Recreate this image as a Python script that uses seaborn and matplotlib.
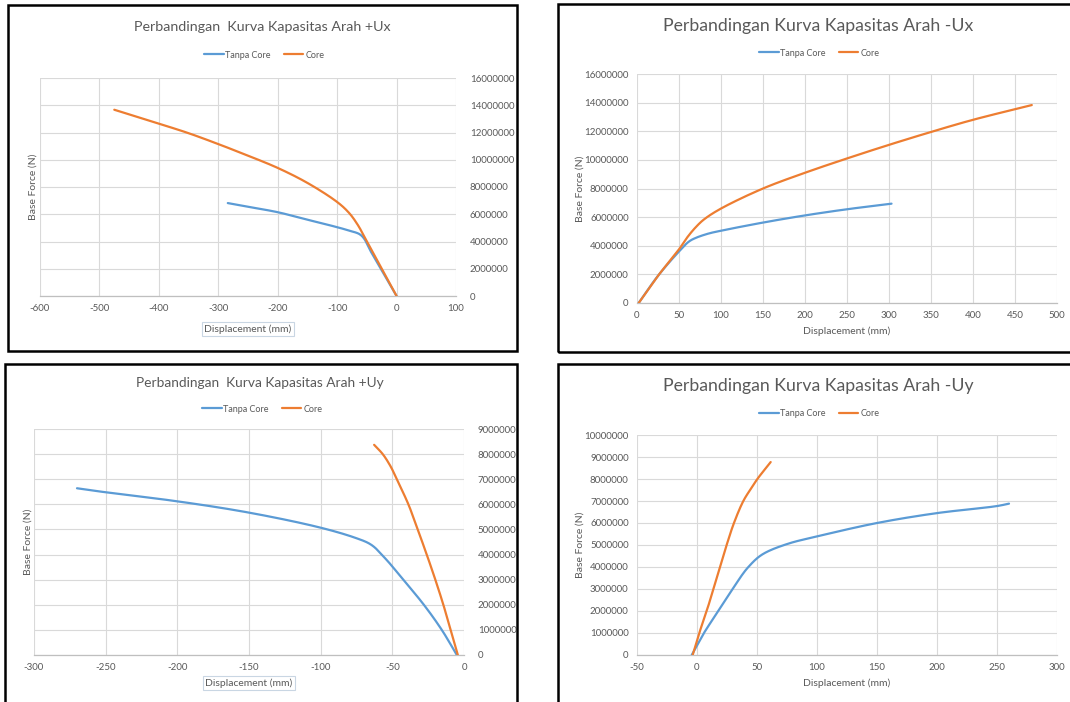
import numpy as np
import pandas as pd
import matplotlib
matplotlib.use("Agg")
import matplotlib.pyplot as plt
from matplotlib.patches import Rectangle
from matplotlib.lines import Line2D
import seaborn as sns

sns.set_theme(style="white")
plt.rcParams['font.family'] = ['Lato', 'DejaVu Sans']

# ---------------- data ----------------
series_names = ["Tanpa Core", "Core"]

# +Ux
ux_pos_tanpa_x = [0, -20, -40, -61, -80, -100, -150, -200, -250, -284]
ux_pos_tanpa_y = [0, 1.5e6, 3.0e6, 4.5e6, 4.8e6, 5.05e6, 5.6e6, 6.15e6, 6.55e6, 6.82e6]
ux_pos_core_x = [0, -30, -50, -65, -80, -100, -150, -200, -250, -300, -350, -400, -475]
ux_pos_core_y = [0, 2.4e6, 4.0e6, 5.2e6, 6.1e6, 6.9e6, 8.3e6, 9.4e6, 10.3e6, 11.15e6, 11.95e6, 12.65e6, 13.67e6]

# -Ux
ux_neg_tanpa_x = [2, 25, 50, 62, 70, 85, 100, 150, 200, 250, 303]
ux_neg_tanpa_y = [0, 1.9e6, 3.6e6, 4.3e6, 4.55e6, 4.85e6, 5.05e6, 5.62e6, 6.12e6, 6.55e6, 6.94e6]
ux_neg_core_x = [2, 25, 50, 60, 70, 80, 100, 150, 200, 250, 300, 350, 400, 470]
ux_neg_core_y = [0, 1.9e6, 3.75e6, 4.6e6, 5.3e6, 5.85e6, 6.6e6, 8.0e6, 9.1e6, 10.1e6, 11.05e6, 11.95e6, 12.8e6, 13.83e6]

# +Uy
uy_pos_tanpa_x = [-5, -15.5, -28, -42.4, -55, -65, -75, -100, -150, -200, -250, -270]
uy_pos_tanpa_y = [0, 1.0e6, 2.0e6, 3.0e6, 3.85e6, 4.4e6, 4.65e6, 5.07e6, 5.67e6, 6.12e6, 6.48e6, 6.64e6]
uy_pos_core_x = [-4.3, -9.3, -14.4, -20.0, -26.0, -32.3, -38.8, -46.9, -51.1, -56.7, -62.7]
uy_pos_core_y = [0, 1.0e6, 2.0e6, 3.0e6, 4.0e6, 5.0e6, 6.0e6, 7.0e6, 7.5e6, 8.0e6, 8.37e6]

# -Uy
uy_neg_tanpa_x = [-4.4, 5.8, 17.8, 29.7, 42.8, 55.3, 76, 100, 150, 200, 250, 260]
uy_neg_tanpa_y = [0, 1.0e6, 2.0e6, 3.0e6, 4.0e6, 4.6e6, 5.06e6, 5.39e6, 6.0e6, 6.45e6, 6.77e6, 6.88e6]
uy_neg_core_x = [-3.6, 1.9, 8.1, 13.6, 19.2, 24.7, 30.8, 38.6, 44.2, 50.3, 61.4]
uy_neg_core_y = [0, 1.0e6, 2.0e6, 3.0e6, 4.0e6, 5.0e6, 6.0e6, 7.0e6, 7.5e6, 8.0e6, 8.77e6]

titles = ["Perbandingan  Kurva Kapasitas Arah +Ux",
          "Perbandingan Kurva Kapasitas Arah -Ux",
          "Perbandingan  Kurva Kapasitas Arah +Uy",
          "Perbandingan Kurva Kapasitas Arah -Uy"]
x_label = "Displacement (mm)"
y_label = "Base Force (N)"

# ---------------- style ----------------
W, H = 1070, 702
BLUE = "#5B9BD5"
ORANGE = "#ED7D31"
GRID = "#D9D9D9"
TXT = "#595959"
palette = {"Tanpa Core": BLUE, "Core": ORANGE}

fig = plt.figure(figsize=(W / 100, H / 100), dpi=100)
fig.patch.set_facecolor("white")


def fx(px):
    return px / W


def fy(py):
    return 1 - py / H


def make_df(tx, ty, cx, cy):
    d1 = pd.DataFrame({"x": tx, "y": ty, "s": series_names[0]})
    d2 = pd.DataFrame({"x": cx, "y": cy, "s": series_names[1]})
    return pd.concat([d1, d2], ignore_index=True)


def smooth(df, xr, yr):
    # Excel-style smoothed line: centripetal Catmull-Rom through the read points
    out = []
    for s, g in df.groupby("s", sort=False):
        P = np.column_stack([np.asarray(g["x"], float) / xr, np.asarray(g["y"], float) / yr])
        P = np.vstack([2 * P[0] - P[1], P, 2 * P[-1] - P[-2]])
        xs, ys = [], []
        for i in range(1, len(P) - 2):
            p0, p1, p2, p3 = P[i - 1], P[i], P[i + 1], P[i + 2]
            t0 = 0.0
            t1 = t0 + np.linalg.norm(p1 - p0) ** 0.5
            t2 = t1 + np.linalg.norm(p2 - p1) ** 0.5
            t3 = t2 + np.linalg.norm(p3 - p2) ** 0.5
            t = np.linspace(t1, t2, 20, endpoint=False)[:, None]
            a1 = (t1 - t) / (t1 - t0) * p0 + (t - t0) / (t1 - t0) * p1
            a2 = (t2 - t) / (t2 - t1) * p1 + (t - t1) / (t2 - t1) * p2
            a3 = (t3 - t) / (t3 - t2) * p2 + (t - t2) / (t3 - t2) * p3
            b1 = (t2 - t) / (t2 - t0) * a1 + (t - t0) / (t2 - t0) * a2
            b2 = (t3 - t) / (t3 - t1) * a2 + (t - t1) / (t3 - t1) * a3
            c = (t2 - t) / (t2 - t1) * b1 + (t - t1) / (t2 - t1) * b2
            xs.extend(c[:, 0] * xr); ys.extend(c[:, 1] * yr)
        xs.append(P[-2][0] * xr); ys.append(P[-2][1] * yr)
        out.append(pd.DataFrame({"x": xs, "y": ys, "s": s}))
    return pd.concat(out, ignore_index=True)


panels = [
    dict(data=make_df(ux_pos_tanpa_x, ux_pos_tanpa_y, ux_pos_core_x, ux_pos_core_y),
         box=(40, 456, 78, 296), xlim=(-600, 100), xstep=100, ylim=(0, 16e6), ystep=2e6, right=True,
         border=(8, 517, 5, 351), title_xy=(262, 27), title_fs=10.3, leg_xy=(264, 55),
         ylab_x=33, xlab_xy=(248, 329), xlab_box=True),
    dict(data=make_df(ux_neg_tanpa_x, ux_neg_tanpa_y, ux_neg_core_x, ux_neg_core_y),
         box=(637, 1057, 74, 303), xlim=(0, 500), xstep=50, ylim=(0, 16e6), ystep=2e6, right=False,
         border=(558, 1075, 4, 352), title_xy=(818, 26), title_fs=12.7, leg_xy=(819, 53),
         ylab_x=580, xlab_xy=(847, 331), xlab_box=False),
    dict(data=make_df(uy_pos_tanpa_x, uy_pos_tanpa_y, uy_pos_core_x, uy_pos_core_y),
         box=(34, 464, 429, 655), xlim=(-300, 0), xstep=50, ylim=(0, 9e6), ystep=1e6, right=True,
         border=(5, 517, 364, 706), title_xy=(260, 383), title_fs=9.9, leg_xy=(262, 409),
         ylab_x=28, xlab_xy=(249, 683), xlab_box=True),
    dict(data=make_df(uy_neg_tanpa_x, uy_neg_tanpa_y, uy_neg_core_x, uy_neg_core_y),
         box=(637, 1057, 435, 655), xlim=(-50, 300), xstep=50, ylim=(0, 10e6), ystep=1e6, right=False,
         border=(558, 1075, 364, 706), title_xy=(818, 386), title_fs=12.7, leg_xy=(819, 414),
         ylab_x=580, xlab_xy=(847, 683), xlab_box=False),
]

for i, p in enumerate(panels):
    l, r, t, b = p["box"]
    ax = fig.add_axes([fx(l), fy(b), fx(r - l), (b - t) / H])
    xr = p["xlim"][1] - p["xlim"][0]
    yr = p["ylim"][1] - p["ylim"][0]
    sm = smooth(p["data"], xr, yr)
    sns.lineplot(data=sm, x="x", y="y", hue="s", units="s", estimator=None, sort=False,
                 palette=palette, linewidth=1.6, legend=False, ax=ax, zorder=3)
    ax.set_xlim(*p["xlim"])
    ax.set_ylim(*p["ylim"])
    ax.set_xticks(np.arange(p["xlim"][0], p["xlim"][1] + 1e-9, p["xstep"]))
    yt = np.arange(p["ylim"][0], p["ylim"][1] + 1, p["ystep"])
    ax.set_yticks(yt)
    ax.set_yticklabels([f"{int(v)}" for v in yt])
    ax.set_xticklabels([f"{int(v)}" for v in ax.get_xticks()])
    ax.grid(True, color=GRID, linewidth=0.8, zorder=0)
    ax.set_axisbelow(True)
    for sp in ["top", "left", "right"]:
        ax.spines[sp].set_visible(False)
    ax.spines["bottom"].set_color("#BFBFBF")
    ax.spines["bottom"].set_linewidth(0.9)
    ax.tick_params(axis="both", length=0, labelsize=7, labelcolor=TXT, pad=6)
    if p["right"]:
        ax.yaxis.tick_right()
        ax.tick_params(axis="y", pad=10)
    ax.set_xlabel("")
    ax.set_ylabel("")
    ax.set_facecolor("white")

    # title
    fig.text(fx(p["title_xy"][0]), fy(p["title_xy"][1]), titles[i], ha="center", va="center",
             fontsize=p["title_fs"], color=TXT)
    # legend
    handles = [Line2D([], [], color=BLUE, lw=1.6), Line2D([], [], color=ORANGE, lw=1.6)]
    fig.legend(handles, series_names, loc="center",
               bbox_to_anchor=(fx(p["leg_xy"][0]), fy(p["leg_xy"][1])),
               ncol=2, frameon=False, fontsize=6.5, labelcolor=TXT, handlelength=2.2,
               handletextpad=0.2, columnspacing=1.4, borderpad=0, borderaxespad=0)
    # axis labels
    fig.text(fx(p["ylab_x"]), fy((t + b) / 2), y_label, rotation=90, ha="center", va="center",
             fontsize=7.5, color=TXT)
    bbox = dict(boxstyle="square,pad=0.25", fc="white", ec="#C9D6E3", lw=0.8) if p["xlab_box"] else None
    fig.text(fx(p["xlab_xy"][0]), fy(p["xlab_xy"][1]), x_label, ha="center", va="center",
             fontsize=7.5, color=TXT, bbox=bbox)
    # panel border
    bl, br, bt, bb = p["border"]
    fig.patches.append(Rectangle((fx(bl), fy(bb)), fx(br - bl), (bb - bt) / H,
                                 transform=fig.transFigure, fill=False, ec="black", lw=1.8,
                                 zorder=10))

fig.savefig("out.png", dpi=100, facecolor="white")
